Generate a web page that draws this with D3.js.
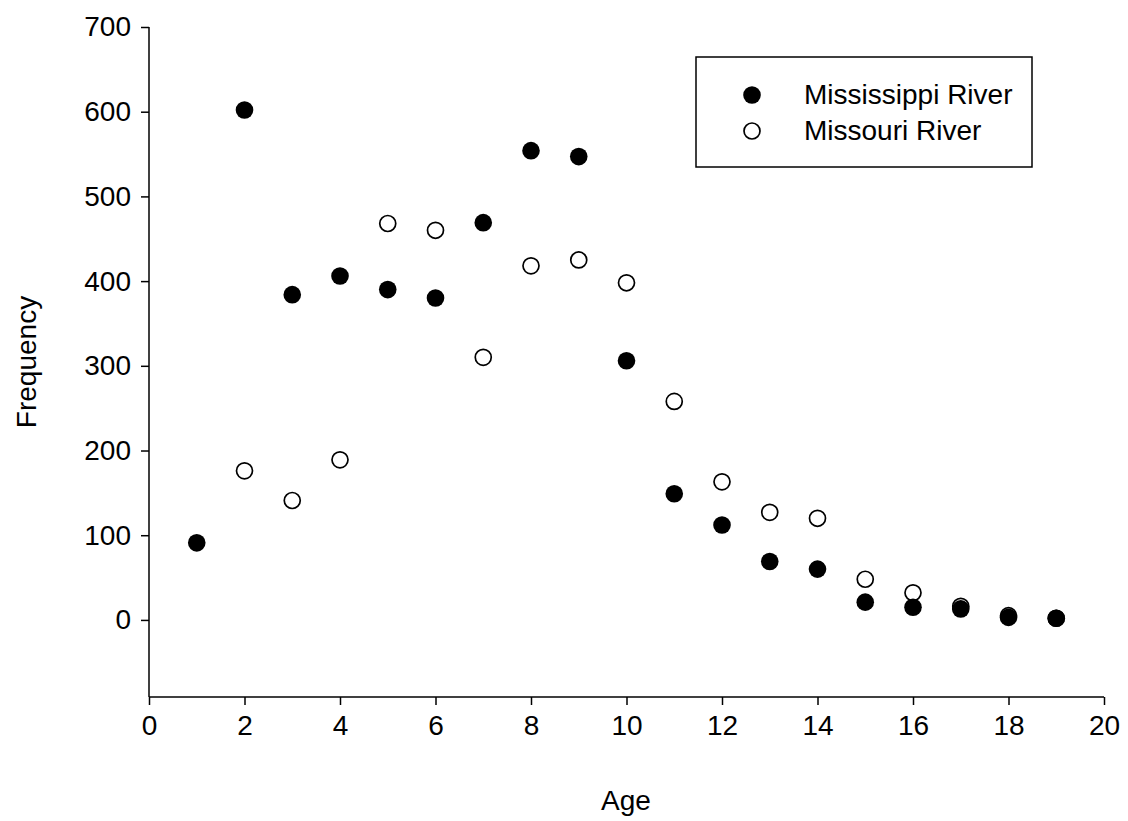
<!DOCTYPE html>
<html><head><meta charset="utf-8">
<script src="https://cdn.jsdelivr.net/npm/d3@7"></script>
<style>body{margin:0;background:#fff}text{font-family:Arial,"Liberation Sans",sans-serif}</style>
</head><body><div class="plot"></div>
<script>
const ages = [1,2,3,4,5,6,7,8,9,10,11,12,13,14,15,16,17,18,19];
const mississippi = [91,602,384,406,390,380,469,554,547,306,149,112,69,60,21,15,13,3,2];
const missouri = [null,176,141,189,468,460,310,418,425,398,258,163,127,120,48,32,16,5,2];
const xTicks = d3.range(0, 21, 2);
const yTicks = d3.range(0, 701, 100);
const fs = "28px";

const svg = d3.select(".plot").append("svg").attr("width", 1128).attr("height", 821);
const x = d3.scaleLinear().domain([0, 20]).range([149, 1104]);
const y = d3.scaleLinear().domain([-91, 700]).range([697, 27]);

const xAxis = svg.append("g").attr("transform", "translate(0,697)")
    .call(d3.axisBottom(x).tickValues(xTicks).tickSize(8).tickPadding(10));
const yAxis = svg.append("g").attr("transform", "translate(149,0)")
    .call(d3.axisLeft(y).tickValues(yTicks).tickSize(8).tickPadding(10));
[xAxis, yAxis].forEach(a => {
    a.selectAll("text").style("font-size", fs).attr("fill", "#000");
    a.selectAll("line,path").attr("stroke", "#000").attr("stroke-width", 1.5);
});
xAxis.select(".domain").attr("d", "M149,0H1104");
yAxis.select(".domain").attr("d", "M0,27V697");

svg.append("text").attr("x", 626).attr("y", 810).attr("text-anchor", "middle")
    .style("font-size", fs).text("Age");
svg.append("text").attr("transform", "translate(36,362) rotate(-90)").attr("text-anchor", "middle")
    .style("font-size", fs).text("Frequency");

const mo = ages.map((a, i) => [a, missouri[i]]).filter(d => d[1] !== null);
svg.append("g").selectAll("circle").data(mo).join("circle")
    .attr("cx", d => x(d[0])).attr("cy", d => y(d[1])).attr("r", 8)
    .attr("fill", "#fff").attr("stroke", "#000").attr("stroke-width", 1.7);
svg.append("g").selectAll("circle").data(ages.map((a, i) => [a, mississippi[i]])).join("circle")
    .attr("cx", d => x(d[0])).attr("cy", d => y(d[1])).attr("r", 8.8)
    .attr("fill", "#000");

const lg = svg.append("g");
lg.append("rect").attr("x", 696).attr("y", 57).attr("width", 336).attr("height", 110)
    .attr("fill", "#fff").attr("stroke", "#000").attr("stroke-width", 1.5);
lg.append("circle").attr("cx", 752).attr("cy", 95).attr("r", 8.8).attr("fill", "#000");
lg.append("circle").attr("cx", 752).attr("cy", 131).attr("r", 8).attr("fill", "#fff")
    .attr("stroke", "#000").attr("stroke-width", 1.7);
lg.append("text").attr("x", 804).attr("y", 104).style("font-size", fs).text("Mississippi River");
lg.append("text").attr("x", 804).attr("y", 140).style("font-size", fs).text("Missouri River");
</script></body></html>
